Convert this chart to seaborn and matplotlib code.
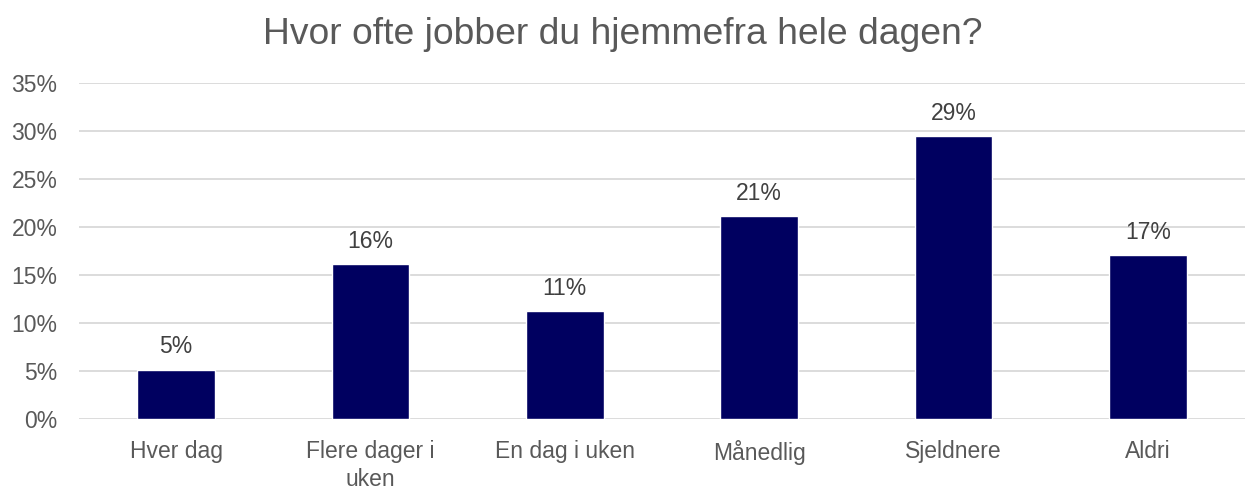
import matplotlib
matplotlib.use("Agg")
import matplotlib.pyplot as plt
import seaborn as sns
import pandas as pd
from matplotlib.ticker import FuncFormatter, MultipleLocator

categories = ["Hver dag", "Flere dager i\nuken", "En dag i uken", "Månedlig", "Sjeldnere", "Aldri"]
values = [5.1, 16.1, 11.2, 21.1, 29.45, 17.0]
labels = ["5%", "16%", "11%", "21%", "29%", "17%"]

sns.set_theme(style="white")
plt.rcParams["font.family"] = ["Liberation Sans", "DejaVu Sans"]

df = pd.DataFrame({"cat": categories, "val": values})

fig = plt.figure(figsize=(12.46, 4.93), dpi=100)
ax = fig.add_axes([79 / 1246, 1 - 418.5 / 493, 1166 / 1246, 336 / 493])

sns.barplot(data=df, x="cat", y="val", color="#000060", width=0.40, saturation=1, ax=ax, zorder=3)

ax.set_ylim(0, 35)
ax.set_xlim(-0.5, len(categories) - 0.5)
ax.yaxis.set_major_locator(MultipleLocator(5))
ax.yaxis.set_major_formatter(FuncFormatter(lambda v, p: f"{v:.0f}%"))
ax.grid(axis="y", color="#d9d9d9", linewidth=1.3, zorder=0)
ax.set_axisbelow(True)
for s in ax.spines.values():
    s.set_visible(False)
ax.set_xlabel("")
ax.set_ylabel("")
ax.tick_params(axis="both", length=0, labelsize=16.5, colors="#595959")
ax.tick_params(axis="x", pad=15.5)
ax.tick_params(axis="y", pad=15.5)
for t in ax.get_xticklabels():
    t.set_linespacing(1.3)

for p, lab in zip(ax.patches, labels):
    ax.annotate(lab, (p.get_x() + p.get_width() / 2, p.get_height()),
                xytext=(0, 8), textcoords="offset points", ha="center", va="bottom",
                fontsize=16.5, color="#404040")

fig.text(0.5, 1 - 35 / 493, "Hvor ofte jobber du hjemmefra hele dagen?", fontsize=26.8,
         color="#595959", ha="center", va="center")

fig.savefig("out.png", dpi=100, facecolor="white")
